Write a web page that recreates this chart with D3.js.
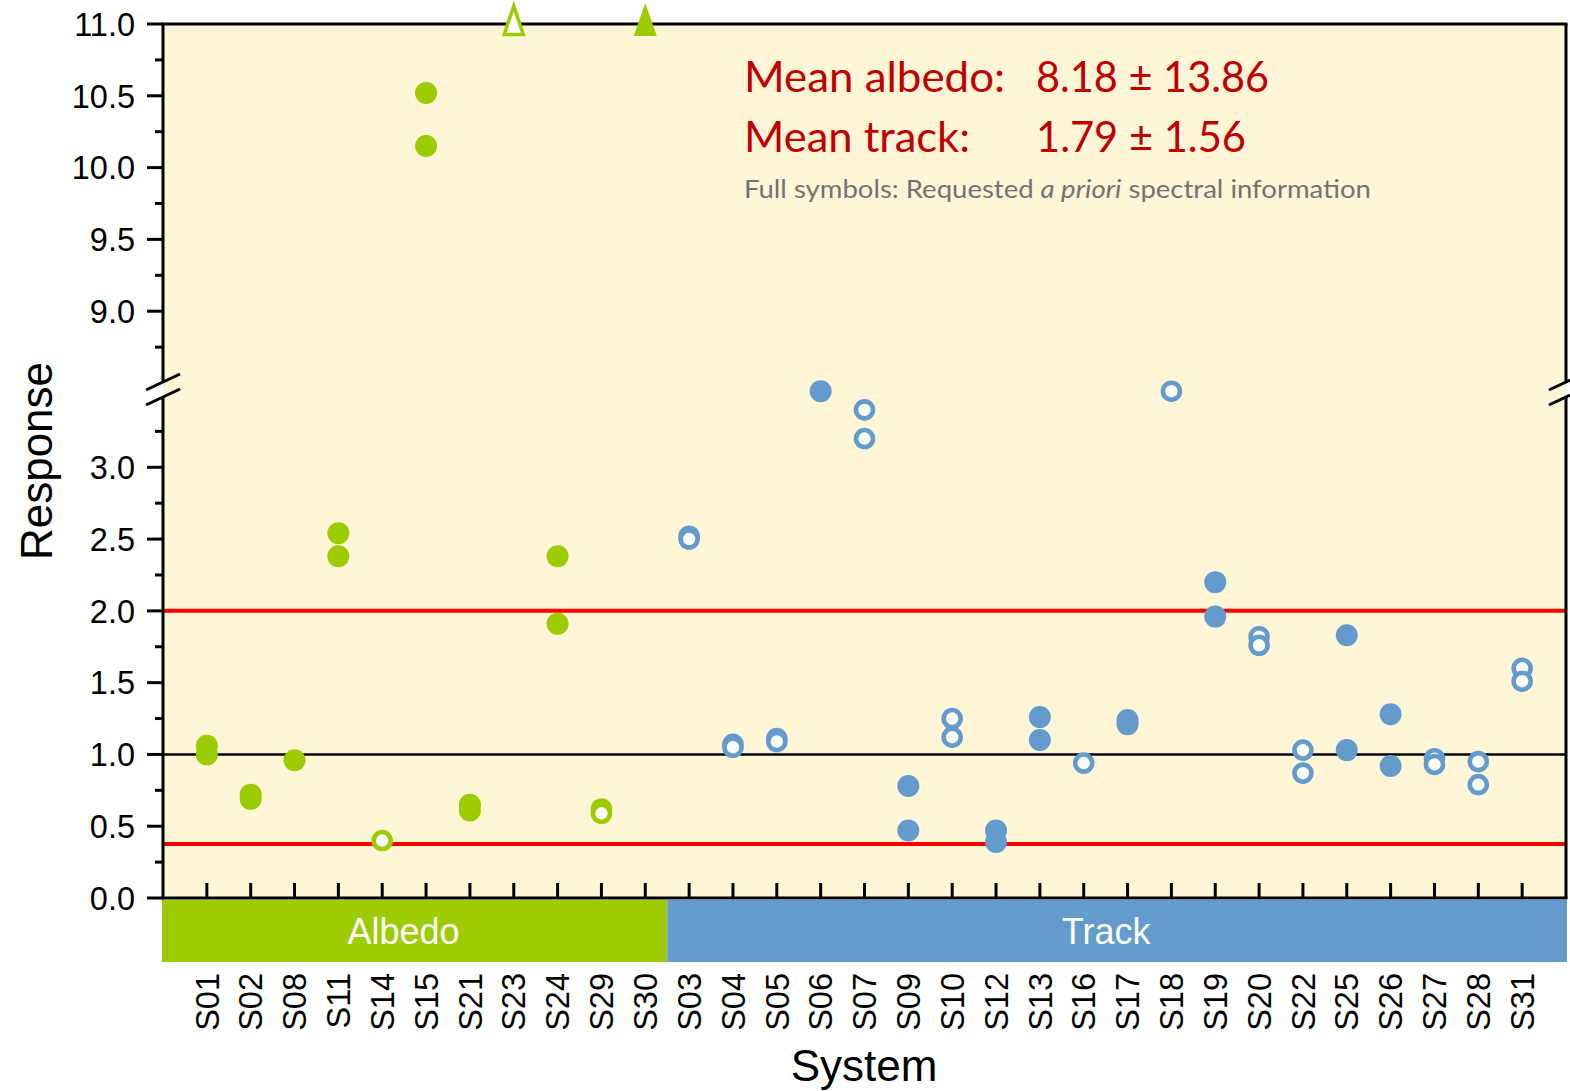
<!DOCTYPE html>
<html>
<head>
<meta charset="utf-8">
<script src="https://cdn.jsdelivr.net/npm/d3@7"></script>
<style>
  body { margin: 0; background: #fff; }
  svg { display: block; }
</style>
</head>
<body>
<script>
// systems, in the order they are drawn on the x axis
var albedoSystems = ["S01","S02","S08","S11","S14","S15","S21","S23","S24","S29","S30"];
var trackSystems = ["S03","S04","S05","S06","S07","S09","S10","S12","S13","S16","S17","S18","S19","S20","S22","S25","S26","S27","S28","S31"];

// response values, full = requested a priori spectral information
var albedoPoints = [
  {s:"S01", v:1.06, full:true}, {s:"S01", v:1.00, full:true},
  {s:"S02", v:0.72, full:true}, {s:"S02", v:0.69, full:true},
  {s:"S08", v:0.96, full:true},
  {s:"S11", v:2.54, full:true}, {s:"S11", v:2.38, full:true},
  {s:"S14", v:0.40, full:false},
  {s:"S15", v:10.52, full:true}, {s:"S15", v:10.15, full:true},
  {s:"S21", v:0.65, full:true}, {s:"S21", v:0.61, full:true},
  {s:"S24", v:2.38, full:true}, {s:"S24", v:1.91, full:true},
  {s:"S29", v:0.62, full:false}, {s:"S29", v:0.59, full:false}
];
var trackPoints = [
  {s:"S03", v:2.52, full:false}, {s:"S03", v:2.50, full:false},
  {s:"S04", v:1.07, full:false}, {s:"S04", v:1.05, full:false},
  {s:"S05", v:1.11, full:false}, {s:"S05", v:1.09, full:false},
  {s:"S06", v:3.53, full:true},
  {s:"S07", v:3.40, full:false}, {s:"S07", v:3.20, full:false},
  {s:"S09", v:0.78, full:true}, {s:"S09", v:0.47, full:true},
  {s:"S10", v:1.25, full:false}, {s:"S10", v:1.12, full:false},
  {s:"S12", v:0.47, full:true}, {s:"S12", v:0.39, full:true},
  {s:"S13", v:1.26, full:true}, {s:"S13", v:1.10, full:true},
  {s:"S16", v:0.94, full:false},
  {s:"S17", v:1.24, full:true}, {s:"S17", v:1.21, full:true},
  {s:"S18", v:3.53, full:false},
  {s:"S19", v:2.20, full:true}, {s:"S19", v:1.96, full:true},
  {s:"S20", v:1.82, full:false}, {s:"S20", v:1.76, full:false},
  {s:"S22", v:1.03, full:false}, {s:"S22", v:0.87, full:false},
  {s:"S25", v:1.83, full:true}, {s:"S25", v:1.03, full:true},
  {s:"S26", v:1.28, full:true}, {s:"S26", v:0.92, full:true},
  {s:"S27", v:0.97, full:false}, {s:"S27", v:0.93, full:false},
  {s:"S28", v:0.95, full:false}, {s:"S28", v:0.79, full:false},
  {s:"S31", v:1.60, full:false}, {s:"S31", v:1.51, full:false}
];
// values above the top of the axis, drawn as triangles
var offScalePoints = [{s:"S23", full:false}, {s:"S30", full:true}];

var lowTicks = [0, 0.5, 1.0, 1.5, 2.0, 2.5, 3.0];
var highTicks = [9.0, 9.5, 10.0, 10.5, 11.0];
var limitLines = [2.0, 0.376];   // red
var unityLine = 1.0;             // black

var meanLabels = ["Mean albedo:", "Mean track:"];
var meanValues = ["8.18 \u00b1 13.86", "1.79 \u00b1 1.56"];

var W = 1570, H = 1091;
var plotL = 163, plotR = 1566, plotT = 24, plotB = 898;
var green = "#9ccc00", blue = "#639bcd", bg = "#fff5d7";

var svg = d3.select("body").append("svg").attr("width", W).attr("height", H);

var systems = albedoSystems.concat(trackSystems);
var x = d3.scalePoint().domain(systems).range([plotL, plotR]).padding(1);
var yLow = d3.scaleLinear().domain([0, 3.5]).range([plotB, 395.5]);
var yHigh = d3.scaleLinear().domain([8.5, 11]).range([383, plotT]);
function yOf(v) { return v > 5 ? yHigh(v) : yLow(v); }

// plot background
svg.append("rect").attr("x", plotL).attr("y", plotT)
   .attr("width", plotR - plotL).attr("height", plotB - plotT).attr("fill", bg);

// reference lines
svg.selectAll("line.limit").data(limitLines).enter().append("line")
   .attr("x1", plotL).attr("x2", plotR)
   .attr("y1", function(d) { return yLow(d); }).attr("y2", function(d) { return yLow(d); })
   .style("stroke", "#ff0000").style("stroke-width", 4);
svg.append("line").attr("x1", plotL).attr("x2", plotR)
   .attr("y1", yLow(unityLine)).attr("y2", yLow(unityLine))
   .style("stroke", "#000").style("stroke-width", 2.5);

// frame: top, bottom, and the two broken side lines
var frame = svg.append("g").style("stroke", "#000").style("stroke-width", 3);
frame.append("line").attr("x1", plotL - 1.5).attr("x2", plotR + 1.5).attr("y1", plotT).attr("y2", plotT);
frame.append("line").attr("x1", plotL - 1.5).attr("x2", plotR + 1.5).attr("y1", plotB).attr("y2", plotB);
[plotL, plotR].forEach(function(xx) {
  frame.append("line").attr("x1", xx).attr("x2", xx).attr("y1", plotT).attr("y2", 383);
  frame.append("line").attr("x1", xx).attr("x2", xx).attr("y1", 396).attr("y2", plotB);
});
// break marks
[[146, 180], [1549, 1570]].forEach(function(b) {
  var dx = b[1] - b[0];
  var slope = 16 / 34;
  [390, 405].forEach(function(y0) {
    frame.append("line").attr("x1", b[0]).attr("y1", y0)
         .attr("x2", b[1]).attr("y2", y0 - dx * slope);
  });
});

// y axis ticks
var tickG = svg.append("g").style("stroke", "#000").style("stroke-width", 3);
function drawTicks(scale, majors, lo, hi) {
  var minors = [];
  for (var v = lo; v <= hi + 1e-9; v += 0.25) minors.push(+v.toFixed(2));
  tickG.selectAll(null).data(minors).enter().append("line")
    .attr("x1", function(d) { return majors.indexOf(d) >= 0 ? 147 : 155; })
    .attr("x2", plotL)
    .attr("y1", function(d) { return scale(d); }).attr("y2", function(d) { return scale(d); });
  svg.selectAll(null).data(majors).enter().append("text")
    .attr("x", 135).attr("y", function(d) { return scale(d); }).attr("dy", "0.36em")
    .attr("text-anchor", "end")
    .style("font-family", "'Liberation Sans', Arial, sans-serif").style("font-size", "32.5px")
    .text(function(d) { return d3.format(".1f")(d); });
}
drawTicks(yLow, lowTicks, 0, 3.25);
drawTicks(yHigh, highTicks, 8.75, 11);

// x ticks (inward)
tickG.selectAll(null).data(systems).enter().append("line")
  .attr("x1", function(d) { return x(d); }).attr("x2", function(d) { return x(d); })
  .attr("y1", plotB - 15).attr("y2", plotB);

// group band under the axis
var split = (x(albedoSystems[albedoSystems.length - 1]) + x(trackSystems[0])) / 2;
var bands = [
  {name: "Albedo", x0: plotL - 1, x1: split, color: green},
  {name: "Track", x0: split, x1: plotR + 1, color: blue}
];
svg.selectAll("rect.band").data(bands).enter().append("rect")
  .attr("x", function(d) { return d.x0; }).attr("y", 900)
  .attr("width", function(d) { return d.x1 - d.x0; }).attr("height", 62)
  .attr("fill", function(d) { return d.color; });
svg.selectAll("text.band").data(bands).enter().append("text")
  .attr("x", function(d) { return (d.x0 + d.x1) / 2 - 11; }).attr("y", 944)
  .attr("text-anchor", "middle").attr("fill", "#fff")
  .style("font-family", "'Liberation Sans', Arial, sans-serif").style("font-size", "36px")
  .text(function(d) { return d.name; });

// x tick labels
svg.selectAll("text.sys").data(systems).enter().append("text")
  .attr("transform", function(d) { return "translate(" + x(d) + ",973) rotate(-90)"; })
  .attr("dy", "0.36em").attr("text-anchor", "end")
  .style("font-family", "'Liberation Sans', Arial, sans-serif").style("font-size", "32.5px")
  .text(function(d) { return d; });

// axis titles
svg.append("text").attr("transform", "translate(52,461) rotate(-90)")
  .attr("text-anchor", "middle")
  .style("font-family", "'Liberation Sans', Arial, sans-serif").style("font-size", "44px")
  .text("Response");
svg.append("text").attr("x", 864).attr("y", 1081).attr("text-anchor", "middle")
  .style("font-family", "'Liberation Sans', Arial, sans-serif").style("font-size", "44px")
  .text("System");

// points
function drawPoints(data, color) {
  svg.selectAll(null).data(data).enter().append("circle")
    .attr("cx", function(d) { return x(d.s); })
    .attr("cy", function(d) { return yOf(d.v); })
    .attr("r", function(d) { return d.full ? 11 : 8.5; })
    .attr("fill", function(d) { return d.full ? color : "#fff"; })
    .style("stroke", function(d) { return d.full ? "none" : color; })
    .style("stroke-width", 4.6);
}
drawPoints(albedoPoints, green);
drawPoints(trackPoints, blue);

svg.selectAll("path.off").data(offScalePoints).enter().append("path")
  .attr("transform", function(d) { return "translate(" + x(d.s) + "," + yHigh(11) + ")"; })
  .attr("d", function(d) { return d.full ? "M0,-21L11.5,12L-11.5,12Z" : "M0,-18L9.5,10.5L-9.5,10.5Z"; })
  .attr("fill", function(d) { return d.full ? green : "#fff"; })
  .style("stroke", function(d) { return d.full ? "none" : green; })
  .style("stroke-width", 3.5);

// annotation
var note = svg.append("g").style("font-family", "Lato, 'Open Sans', sans-serif");
var labelW = [261, 226], valueW = [233, 210];
meanLabels.forEach(function(t, i) {
  var yy = 92 + i * 60;
  note.append("text").attr("x", 744).attr("y", yy).attr("fill", "#c00000")
    .style("font-size", "42px").attr("textLength", labelW[i]).attr("lengthAdjust", "spacingAndGlyphs").text(t);
  note.append("text").attr("x", 1036).attr("y", yy).attr("fill", "#c00000")
    .style("font-size", "42px").attr("textLength", valueW[i]).attr("lengthAdjust", "spacingAndGlyphs").text(meanValues[i]);
});
var foot = note.append("text").attr("x", 744).attr("y", 198).attr("fill", "#767171")
  .style("font-size", "25.5px").attr("textLength", 627).attr("lengthAdjust", "spacingAndGlyphs");
foot.append("tspan").text("Full symbols: Requested ");
foot.append("tspan").style("font-style", "italic").text("a priori");
foot.append("tspan").text(" spectral information");
</script>
</body>
</html>
